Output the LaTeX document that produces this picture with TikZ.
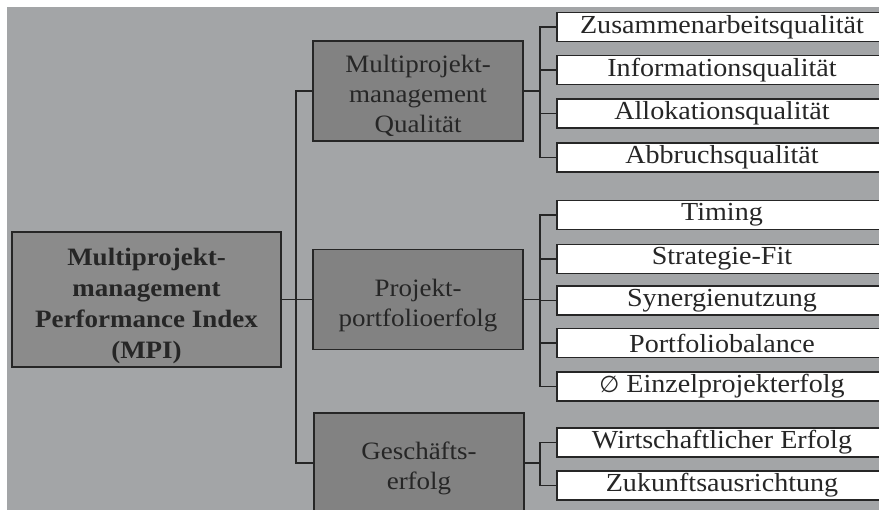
\documentclass[tikz,border=0pt]{standalone}
\usepackage{fontspec}
\setmainfont[FakeStretch=1.08]{Liberation Serif}
\newfontfamily\emptysetfont{DejaVu Sans}
\definecolor{bgc}{HTML}{A3A5A7}
\definecolor{midc}{HTML}{828282}
\definecolor{rootc}{HTML}{8B8B8B}
\definecolor{inkc}{HTML}{262626}
\newcommand{\lowtext}[1]{\raisebox{-6pt}[\height][\depth]{\begin{tabular}{@{}c@{}}#1\end{tabular}}}
\tikzset{
  mybox/.style={draw=inkc, line width=1.8pt, rectangle, inner sep=0pt, align=center, text=inkc},
  rootbox/.style={mybox, fill=rootc, minimum width=269pt, minimum height=135pt, font=\fontsize{25}{31}\selectfont\bfseries},
  midbox/.style={mybox, fill=midc, minimum width=210pt, minimum height=100pt, font=\fontsize{25}{30}\selectfont},
  leafbox/.style={mybox, fill=white, minimum width=330pt, minimum height=29pt, font=\fontsize{26}{28}\selectfont},
  conn/.style={draw=inkc, line width=1.8pt}
}
\begin{document}
\begin{tikzpicture}[x=1pt,y=1pt]
\clip (0,0) rectangle (879,-510);
\fill[white] (0,0) rectangle (879,-510);
\fill[bgc] (7,-7) rectangle (879,-510);
% root and mid nodes
\node[rootbox] (root) at (146.5,-299.5) {\lowtext{Multiprojekt-\\management\\Performance Index\\(MPI)}};
\node[midbox] (mpq) at (418,-91) {\lowtext{Multiprojekt-\\management\\Qualität}};
\node[midbox] (ppe) at (418,-299.5) {\lowtext{Projekt-\\portfolioerfolg}};
\node[midbox] (ge) at (419,-463) {\lowtext{Geschäfts-\\erfolg}};
% leaves
\node[leafbox] (l1) at (722,-27) {Zusammenarbeitsqualität};
\node[leafbox] (l2) at (722,-70) {Informationsqualität};
\node[leafbox] (l3) at (722,-113.5) {Allokationsqualität};
\node[leafbox] (l4) at (722,-157.5) {Abbruchsqualität};
\node[leafbox] (l5) at (722,-215) {Timing};
\node[leafbox] (l6) at (722,-259) {Strategie-Fit};
\node[leafbox] (l7) at (722,-300.5) {Synergienutzung};
\node[leafbox] (l8) at (722,-343) {Portfoliobalance};
\node[leafbox] (l9) at (722,-386.5) {{\emptysetfont\fontsize{23}{28}\selectfont ∅} Einzelprojekterfolg};
\node[leafbox] (l10) at (722,-442.5) {Wirtschaftlicher Erfolg};
\node[leafbox] (l11) at (722,-485.5) {Zukunftsausrichtung};
% trunk coordinates
\coordinate (t0) at (296,-299.5);
\coordinate (b1) at (540,-91);
\coordinate (b2) at (540,-299.5);
\coordinate (b3) at (540,-463);
% root connectors
\draw[conn] (root.east) -- (ppe.west);
\draw[conn] (mpq.west) -| (t0);
\draw[conn] (ge.west) -| (t0);
% group 1
\draw[conn] (mpq.east) -- (b1);
\draw[conn] (l1.west) -| (b1);
\draw[conn] (l4.west) -| (b1);
\draw[conn] (l2.west) -- (l2.west -| b1);
\draw[conn] (l3.west) -- (l3.west -| b1);
% group 2
\draw[conn] (ppe.east) -- (b2);
\draw[conn] (l5.west) -| (b2);
\draw[conn] (l9.west) -| (b2);
\draw[conn] (l6.west) -- (l6.west -| b2);
\draw[conn] (l7.west) -- (l7.west -| b2);
\draw[conn] (l8.west) -- (l8.west -| b2);
% group 3
\draw[conn] (ge.east) -- (b3);
\draw[conn] (l10.west) -| (b3);
\draw[conn] (l11.west) -| (b3);
\end{tikzpicture}
\end{document}
